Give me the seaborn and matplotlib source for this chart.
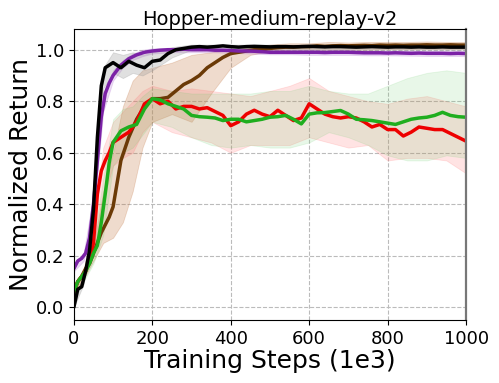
import matplotlib
matplotlib.use("Agg")
import matplotlib.pyplot as plt
import seaborn as sns

# ── Data ─────────────────────────────────────────────────────────────────────
STEPS = [0, 10, 20, 30, 40, 50, 60, 70, 80, 90, 100,
         120, 140, 160, 180, 200, 220, 240, 260, 280, 300,
         320, 340, 360, 380, 400, 420, 440, 460, 480, 500,
         520, 540, 560, 580, 600, 620, 640, 660, 680, 700,
         720, 740, 760, 780, 800, 820, 840, 860, 880, 900,
         920, 940, 960, 980, 1000]

BROWN_MEAN = [0.06, 0.10, 0.12, 0.15, 0.17, 0.21, 0.25, 0.29, 0.32, 0.35, 0.39,
              0.57, 0.66, 0.73, 0.78, 0.81, 0.81, 0.815, 0.84, 0.865, 0.88,
              0.90, 0.93, 0.95, 0.97, 0.985, 0.99, 0.995, 1.0, 1.0, 1.005,
              1.008, 1.01, 1.01, 1.012, 1.012, 1.015, 1.013, 1.015, 1.016, 1.015,
              1.016, 1.017, 1.016, 1.018, 1.017, 1.018, 1.017, 1.018, 1.018, 1.019,
              1.018, 1.018, 1.019, 1.018, 1.018]

RED_MEAN = [0.06, 0.10, 0.12, 0.14, 0.18, 0.25, 0.44, 0.53, 0.57, 0.60, 0.64,
            0.66, 0.68, 0.72, 0.79, 0.81, 0.79, 0.80, 0.77, 0.78, 0.78,
            0.77, 0.775, 0.76, 0.745, 0.705, 0.72, 0.75, 0.765, 0.75, 0.74,
            0.765, 0.745, 0.725, 0.735, 0.79, 0.77, 0.75, 0.74, 0.735, 0.74,
            0.735, 0.72, 0.70, 0.71, 0.69, 0.69, 0.665, 0.68, 0.70, 0.695,
            0.69, 0.69, 0.675, 0.66, 0.645]

GREEN_MEAN = [0.06, 0.10, 0.12, 0.14, 0.17, 0.21, 0.24, 0.33, 0.44, 0.56, 0.64,
              0.685, 0.70, 0.71, 0.77, 0.81, 0.805, 0.79, 0.78, 0.77, 0.745,
              0.74, 0.738, 0.735, 0.725, 0.73, 0.73, 0.72, 0.725, 0.73, 0.738,
              0.74, 0.745, 0.73, 0.712, 0.75, 0.755, 0.756, 0.76, 0.764, 0.75,
              0.73, 0.728, 0.725, 0.72, 0.715, 0.71, 0.72, 0.73, 0.735, 0.738,
              0.745, 0.757, 0.745, 0.74, 0.738]

PURPLE_MEAN = [0.15, 0.18, 0.19, 0.21, 0.27, 0.40, 0.57, 0.74, 0.83, 0.87, 0.90,
               0.94, 0.965, 0.98, 0.99, 0.995, 0.998, 1.0, 1.0, 1.002, 1.0,
               1.0, 1.0, 0.998, 0.998, 0.997, 0.995, 0.995, 0.994, 0.992, 0.99,
               0.99, 0.99, 0.99, 0.99, 0.99, 0.99, 0.989, 0.99, 0.99, 0.99,
               0.989, 0.988, 0.988, 0.988, 0.987, 0.988, 0.987, 0.986, 0.987, 0.986,
               0.986, 0.986, 0.985, 0.986, 0.985]

BLACK_MEAN = [0.0, 0.07, 0.08, 0.14, 0.22, 0.38, 0.66, 0.86, 0.93, 0.94, 0.95,
              0.93, 0.955, 0.94, 0.93, 0.955, 0.96, 0.985, 1.0, 1.005, 1.01,
              1.012, 1.01, 1.012, 1.015, 1.012, 1.01, 1.012, 1.013, 1.012, 1.011,
              1.012, 1.012, 1.011, 1.012, 1.013, 1.012, 1.011, 1.012, 1.012, 1.011,
              1.01, 1.011, 1.012, 1.011, 1.01, 1.011, 1.011, 1.01, 1.011, 1.01,
              1.01, 1.011, 1.01, 1.01, 1.01]

BAND_STEPS = [0, 25, 50, 75, 100, 125, 150, 175, 200,
              250, 300, 350, 400, 450, 500, 550, 600,
              650, 700, 750, 800, 850, 900, 950, 1000]

BROWN_LO = [0.05, 0.11, 0.18, 0.25, 0.27, 0.33, 0.45, 0.62, 0.72,
            0.75, 0.72, 0.83, 0.93, 0.98, 0.995, 1.0, 1.0,
            1.0, 1.0, 1.0, 1.002, 1.002, 1.003, 1.003, 1.003]
BROWN_HI = [0.08, 0.15, 0.24, 0.45, 0.60, 0.78, 0.88, 0.92, 0.93,
            0.95, 0.98, 0.99, 1.0, 1.01, 1.02, 1.025, 1.025,
            1.03, 1.028, 1.03, 1.03, 1.03, 1.032, 1.03, 1.03]

RED_LO = [0.05, 0.11, 0.20, 0.42, 0.55, 0.58, 0.60, 0.68, 0.72,
          0.68, 0.66, 0.64, 0.60, 0.63, 0.63, 0.63, 0.66,
          0.64, 0.62, 0.63, 0.57, 0.58, 0.58, 0.57, 0.52]
RED_HI = [0.08, 0.15, 0.32, 0.62, 0.72, 0.76, 0.80, 0.84, 0.86,
          0.84, 0.85, 0.84, 0.83, 0.82, 0.84, 0.86, 0.89,
          0.84, 0.82, 0.80, 0.79, 0.81, 0.82, 0.80, 0.78]

GREEN_LO = [0.05, 0.10, 0.17, 0.28, 0.55, 0.60, 0.62, 0.67, 0.72,
            0.70, 0.66, 0.63, 0.62, 0.63, 0.62, 0.62, 0.64,
            0.68, 0.66, 0.63, 0.59, 0.57, 0.57, 0.59, 0.58]
GREEN_HI = [0.08, 0.15, 0.26, 0.50, 0.73, 0.77, 0.78, 0.82, 0.85,
            0.84, 0.83, 0.83, 0.83, 0.83, 0.84, 0.84, 0.86,
            0.84, 0.83, 0.83, 0.86, 0.89, 0.91, 0.92, 0.91]

PURPLE_LO = [0.14, 0.18, 0.36, 0.76, 0.88, 0.93, 0.96, 0.975, 0.985,
             0.99, 0.99, 0.99, 0.988, 0.985, 0.982, 0.982, 0.98,
             0.98, 0.98, 0.978, 0.978, 0.977, 0.976, 0.976, 0.975]
PURPLE_HI = [0.17, 0.21, 0.44, 0.82, 0.92, 0.96, 0.985, 1.0, 1.005,
             1.008, 1.008, 1.006, 1.004, 1.003, 1.0, 1.0, 1.0,
             0.998, 0.998, 0.997, 0.996, 0.996, 0.995, 0.995, 0.995]

BLACK_LO = [0.0, 0.09, 0.34, 0.85, 0.91, 0.89, 0.91, 0.90, 0.92,
            0.97, 1.0, 1.0, 1.0, 1.0, 1.0, 1.0, 1.0,
            1.0, 1.0, 1.0, 1.0, 1.0, 1.0, 1.0, 1.0]
BLACK_HI = [0.01, 0.12, 0.44, 0.93, 0.99, 0.98, 0.99, 0.98, 0.99,
            1.01, 1.02, 1.02, 1.02, 1.02, 1.02, 1.02, 1.02,
            1.02, 1.02, 1.02, 1.02, 1.02, 1.02, 1.02, 1.02]

X_TICKS = [0, 200, 400, 600, 800, 1000]
Y_TICKS = [0.0, 0.2, 0.4, 0.6, 0.8, 1.0]

# ── Style ─────────────────────────────────────────────────────────────────────
sns.set_style("ticks")
plt.rcParams.update({"text.color": "black", "axes.labelcolor": "black",
                     "xtick.color": "black", "ytick.color": "black"})
BROWN  = "#6b3a07"
RED    = "#ee0000"
GREEN  = "#1fae1f"
PURPLE = "#7b22a6"
BLACK  = "#000000"

series = [
    (BROWN_MEAN, BROWN_LO, BROWN_HI, BROWN, "#c0703a", 0.25),
    (RED_MEAN, RED_LO, RED_HI, RED, "#ff6666", 0.18),
    (GREEN_MEAN, GREEN_LO, GREEN_HI, GREEN, "#66cc66", 0.15),
    (PURPLE_MEAN, PURPLE_LO, PURPLE_HI, PURPLE, "#b070d0", 0.25),
    (BLACK_MEAN, BLACK_LO, BLACK_HI, BLACK, "#999999", 0.3),
]

fig = plt.figure(figsize=(4.99, 3.83), dpi=100)
ax = fig.add_axes([0.148, 0.164, 0.786, 0.760])

for mean, lo, hi, line_c, band_c, alpha in series:
    ax.fill_between(BAND_STEPS, lo, hi, color=band_c, alpha=alpha, linewidth=0.6)

for mean, lo, hi, line_c, band_c, alpha in series:
    sns.lineplot(x=STEPS, y=mean, color=line_c, linewidth=2.5, ax=ax)

ax.set_xlim(0, 1000)
ax.set_ylim(-0.05, 1.08)
ax.set_xticks(X_TICKS)
ax.set_yticks(Y_TICKS)
ax.grid(True, linestyle="--", color="#bbbbbb", linewidth=0.8)
ax.tick_params(labelsize=13)
ax.set_title("Hopper-medium-replay-v2", fontsize=14, pad=3)
ax.set_xlabel("Training Steps (1e3)", fontsize=18, labelpad=1)
ax.set_ylabel("Normalized Return", fontsize=18, labelpad=2)
for s in ax.spines.values():
    s.set_color("black")
ax.spines["right"].set_color("#777777")
ax.spines["right"].set_linewidth(1.6)

fig.savefig("out.png", dpi=100)
